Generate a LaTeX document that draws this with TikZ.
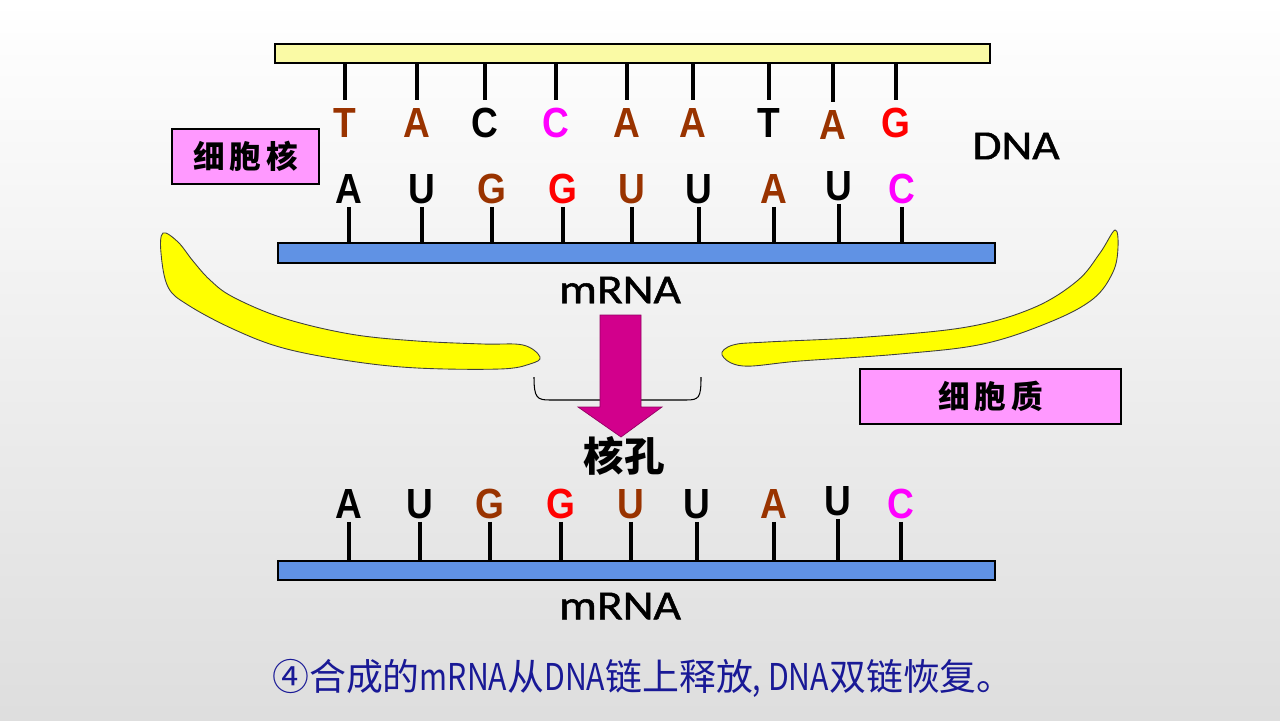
\documentclass[tikz,border=0pt]{standalone}
\usepackage{fontspec}
\usepackage{tikz}
\usetikzlibrary{calc}
\newfontfamily\basefont[FakeStretch=0.88]{Liberation Sans}
\newfontfamily\namefont[FakeStretch=1.15,FakeBold=1.2]{Carlito}
\newfontfamily\cjk{Noto Sans CJK SC}
\newfontfamily\cjkwide[LetterSpace=15]{Noto Sans CJK SC}
\newfontfamily\cjknarrow[FakeStretch=0.82]{Noto Sans CJK SC}
\definecolor{basebrown}{RGB}{153,51,0}
\definecolor{basered}{RGB}{255,0,0}
\definecolor{basepink}{RGB}{255,0,255}
\definecolor{dnayellow}{RGB}{250,250,165}
\definecolor{rnablue}{RGB}{96,146,228}
\definecolor{boxpink}{RGB}{255,153,255}
\definecolor{membyellow}{RGB}{255,255,0}
\definecolor{arrowmag}{RGB}{210,0,140}
\definecolor{notetext}{RGB}{25,25,150}

\begin{document}
\begin{tikzpicture}[x=0.02cm,y=-0.02cm] %% 1 unit = 1 px
	\tikzstyle{basetxt}=[font=\basefont\bfseries\fontsize{24}{24}\selectfont,inner sep=0pt,text height=17.2pt,text depth=0pt,anchor=base];
	\tikzstyle{tick}=[line width=2.8pt];
	\tikzstyle{strand}=[draw=black,line width=0.9pt];
	\tikzstyle{namelab}=[font=\namefont\fontsize{23.5}{23.5}\selectfont,inner sep=0pt];
	\tikzstyle{placebox}=[draw=black,line width=0.7pt,fill=boxpink,font=\cjkwide\bfseries\fontsize{18}{18}\selectfont];
	\tikzstyle{membrane}=[draw=black!75,line width=0.5pt,fill=membyellow];
	%% background and frame
	\shade[top color=white,bottom color=black!13] (0,0) rectangle (1280,720);
	\useasboundingbox (0,0) rectangle (1280,720);
	%% nuclear membrane
	\draw[membrane] plot[smooth cycle,tension=0.6] coordinates {(163,233) (161,253) (168,287) (188,305) (233,329) (283,348) (350,361) (417,368) (500,369) (530,364) (540,357) (523,345) (483,344) (417,341) (350,334) (283,318) (233,297) (210,280) (193,261) (178,242)};
	\draw[membrane] plot[smooth cycle,tension=0.6] coordinates {(1115,230) (1118,247) (1113,272) (1093,299) (1050,322) (983,344) (900,354) (800,361) (743,366) (722,355) (733,345) (767,342) (867,337) (967,327) (1033,308) (1077,281) (1100,253)};
	%% pore
	\draw[line width=0.6pt] (534,377) .. controls (534,398) and (537,400) .. (550,400) -- (686,400) .. controls (699,400) and (701,398) .. (701,377);
	\draw[draw=arrowmag!70!black,line width=0.4pt,fill=arrowmag] (600,315) -- (641,315) -- (641,407) -- (662,407) -- (621,437) -- (578,407) -- (600,407) -- cycle;
	\node[font=\cjk\bfseries\fontsize{23}{23}\selectfont,inner sep=0pt] (pore) at (624,456) {核孔};
	%% compartments
	\node[placebox,minimum width=2.94cm,minimum height=1.1cm] (nucleus) at (245.5,156.5) {细胞核};
	\node[placebox,minimum width=5.22cm,minimum height=1.1cm] (cytoplasm) at (990.5,396.5) {细胞质};
	%% DNA template strand
	\draw[strand,fill=dnayellow] (275,44) coordinate (dnaA) rectangle (990,63) coordinate (dnaB);
	\node[basetxt,text=basebrown] (d1) at (345,137) {T};
	\node[basetxt,text=basebrown] (d2) at (417,137) {A};
	\node[basetxt,text=black] (d3) at (485,137) {C};
	\node[basetxt,text=basepink] (d4) at (556,137) {C};
	\node[basetxt,text=basebrown] (d5) at (627,137) {A};
	\node[basetxt,text=basebrown] (d6) at (693,137) {A};
	\node[basetxt,text=black] (d7) at (769,137) {T};
	\node[basetxt,text=basebrown] (d8) at (833,139) {A};
	\node[basetxt,text=basered] (d9) at (896,137) {G};
	\draw[tick] (d1 |- dnaB) -- ([yshift=3.4pt]d1.north);
	\draw[tick] (d2 |- dnaB) -- ([yshift=3.4pt]d2.north);
	\draw[tick] (d3 |- dnaB) -- ([yshift=3.4pt]d3.north);
	\draw[tick] (d4 |- dnaB) -- ([yshift=3.4pt]d4.north);
	\draw[tick] (d5 |- dnaB) -- ([yshift=3.4pt]d5.north);
	\draw[tick] (d6 |- dnaB) -- ([yshift=3.4pt]d6.north);
	\draw[tick] (d7 |- dnaB) -- ([yshift=3.4pt]d7.north);
	\draw[tick] (d8 |- dnaB) -- ([yshift=3.4pt]d8.north);
	\draw[tick] (d9 |- dnaB) -- ([yshift=3.4pt]d9.north);
	\node[namelab] (dnaname) at (1016,146) {DNA};
	%% mRNA still in the nucleus
	\draw[strand,fill=rnablue] (278,243) coordinate (rnaA) rectangle (995,263) coordinate (rnaB);
	\node[basetxt,text=black] (r1) at (349,203) {A};
	\node[basetxt,text=black] (r2) at (422,203) {U};
	\node[basetxt,text=basebrown] (r3) at (492,203) {G};
	\node[basetxt,text=basered] (r4) at (563,203) {G};
	\node[basetxt,text=basebrown] (r5) at (632,203) {U};
	\node[basetxt,text=black] (r6) at (699,203) {U};
	\node[basetxt,text=basebrown] (r7) at (774,203) {A};
	\node[basetxt,text=black] (r8) at (839,200) {U};
	\node[basetxt,text=basepink] (r9) at (902,203) {C};
	\draw[tick] ([yshift=-2pt]r1.south) -- (r1 |- rnaA);
	\draw[tick] ([yshift=-2pt]r2.south) -- (r2 |- rnaA);
	\draw[tick] ([yshift=-2pt]r3.south) -- (r3 |- rnaA);
	\draw[tick] ([yshift=-2pt]r4.south) -- (r4 |- rnaA);
	\draw[tick] ([yshift=-2pt]r5.south) -- (r5 |- rnaA);
	\draw[tick] ([yshift=-2pt]r6.south) -- (r6 |- rnaA);
	\draw[tick] ([yshift=-2pt]r7.south) -- (r7 |- rnaA);
	\draw[tick] ([yshift=-2pt]r8.south) -- (r8 |- rnaA);
	\draw[tick] ([yshift=-2pt]r9.south) -- (r9 |- rnaA);
	\node[namelab] (rnaname) at (620,290) {mRNA};
	%% released mRNA
	\draw[strand,fill=rnablue] (278,561) coordinate (freeA) rectangle (995,580) coordinate (freeB);
	\node[basetxt,text=black] (s1) at (349,518) {A};
	\node[basetxt,text=black] (s2) at (420,518) {U};
	\node[basetxt,text=basebrown] (s3) at (490,518) {G};
	\node[basetxt,text=basered] (s4) at (561,518) {G};
	\node[basetxt,text=basebrown] (s5) at (631,518) {U};
	\node[basetxt,text=black] (s6) at (697,518) {U};
	\node[basetxt,text=basebrown] (s7) at (774,518) {A};
	\node[basetxt,text=black] (s8) at (838,515) {U};
	\node[basetxt,text=basepink] (s9) at (901,518) {C};
	\draw[tick] ([yshift=-2pt]s1.south) -- (s1 |- freeA);
	\draw[tick] ([yshift=-2pt]s2.south) -- (s2 |- freeA);
	\draw[tick] ([yshift=-2pt]s3.south) -- (s3 |- freeA);
	\draw[tick] ([yshift=-2pt]s4.south) -- (s4 |- freeA);
	\draw[tick] ([yshift=-2pt]s5.south) -- (s5 |- freeA);
	\draw[tick] ([yshift=-2pt]s6.south) -- (s6 |- freeA);
	\draw[tick] ([yshift=-2pt]s7.south) -- (s7 |- freeA);
	\draw[tick] ([yshift=-2pt]s8.south) -- (s8 |- freeA);
	\draw[tick] ([yshift=-2pt]s9.south) -- (s9 |- freeA);
	\node[namelab] (freename) at (620,606) {mRNA};
	%% caption
	\node[font=\cjk\fontsize{21}{21}\selectfont,text=notetext,inner sep=0pt] (note) at (643,678)
		{④合成的{\cjknarrow mRNA}从{\cjknarrow DNA}链上释放{\cjknarrow , DNA}双链恢复。};
\end{tikzpicture}
\end{document}
